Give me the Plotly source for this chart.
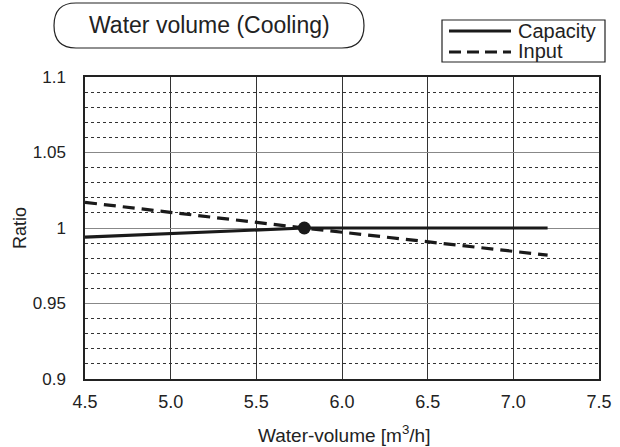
import plotly.graph_objects as go

# Data
cap_x = [4.5, 5.78, 7.2]
cap_y = [0.994, 1.0, 1.0]
inp_x = [4.5, 5.78, 7.2]
inp_y = [1.017, 1.0, 0.982]
dot_x = [5.78]
dot_y = [1.0]
x_ticks = [4.5, 5.0, 5.5, 6.0, 6.5, 7.0, 7.5]
x_ticktext = ["4.5", "5.0", "5.5", "6.0", "6.5", "7.0", "7.5"]
y_ticks = [0.9, 0.95, 1.0, 1.05, 1.1]
y_ticktext = ["0.9", "0.95", "1", "1.05", "1.1"]

FONT = "Liberation Sans, Arial, sans-serif"

fig = go.Figure()
fig.add_trace(go.Scatter(x=cap_x, y=cap_y, mode="lines", name="Capacity",
                         line=dict(color="#1a1a1a", width=3.2), showlegend=False))
fig.add_trace(go.Scatter(x=inp_x, y=inp_y, mode="lines", name="Input",
                         line=dict(color="#1a1a1a", width=3.2, dash="12px,7px"), showlegend=False))
fig.add_trace(go.Scatter(x=dot_x, y=dot_y, mode="markers",
                         marker=dict(color="#1a1a1a", size=13), showlegend=False))

W, H = 620, 447
L, R, T, B = 85, 21, 77, 68
pw, ph = W - L - R, H - T - B

def px(x):
    return (x - L) / pw

def py(y):
    return (H - B - y) / ph

# Rounded title box (paper coords)
x0, x1, y0, y1 = 54, 364, 3, 48
r = 22
path = (f"M {px(x0 + r)},{py(y0)} L {px(x1 - r)},{py(y0)} "
        f"Q {px(x1)},{py(y0)} {px(x1)},{py((y0 + y1) / 2)} "
        f"Q {px(x1)},{py(y1)} {px(x1 - r)},{py(y1)} "
        f"L {px(x0 + r)},{py(y1)} "
        f"Q {px(x0)},{py(y1)} {px(x0)},{py((y0 + y1) / 2)} "
        f"Q {px(x0)},{py(y0)} {px(x0 + r)},{py(y0)} Z")
shapes = [dict(type="path", xref="paper", yref="paper", path=path,
               line=dict(color="#222", width=1.2))]
# Legend box
shapes.append(dict(type="rect", xref="paper", yref="paper",
                   x0=px(442), x1=px(605), y0=py(20), y1=py(62),
                   line=dict(color="#222", width=1.2), fillcolor="white"))
shapes.append(dict(type="line", xref="paper", yref="paper",
                   x0=px(449), x1=px(511), y0=py(31), y1=py(31),
                   line=dict(color="#1a1a1a", width=3.2)))
shapes.append(dict(type="line", xref="paper", yref="paper",
                   x0=px(449), x1=px(511), y0=py(52), y1=py(52),
                   line=dict(color="#1a1a1a", width=3.2, dash="12px,6px")))

annotations = [
    dict(text="Water volume (Cooling)", xref="paper", yref="paper",
         x=px(209), y=py(25), showarrow=False, xanchor="center", yanchor="middle",
         font=dict(family=FONT, size=23, color="#222")),
    dict(text="Capacity", xref="paper", yref="paper", x=px(516), y=py(31),
         showarrow=False, xanchor="left", yanchor="middle",
         font=dict(family=FONT, size=20, color="#222")),
    dict(text="Input", xref="paper", yref="paper", x=px(516), y=py(51),
         showarrow=False, xanchor="left", yanchor="middle",
         font=dict(family=FONT, size=20, color="#222")),
    dict(text="Water-volume [m<sup>3</sup>/h]", xref="paper", yref="paper",
         x=px(344), y=py(434), showarrow=False, xanchor="center", yanchor="middle",
         font=dict(family=FONT, size=19, color="#222")),
    dict(text="Ratio", xref="paper", yref="paper", textangle=-90,
         x=px(20), y=py(228), showarrow=False, xanchor="center", yanchor="middle",
         font=dict(family=FONT, size=18, color="#222")),
]

fig.update_layout(
    width=W, height=H, margin=dict(l=L, r=R, t=T, b=B),
    paper_bgcolor="white", plot_bgcolor="white",
    font=dict(family=FONT, size=17, color="#222"),
    shapes=shapes, annotations=annotations,
)
fig.update_xaxes(range=[4.5, 7.5], tickvals=x_ticks, ticktext=x_ticktext,
                 showgrid=True, gridcolor="#333", gridwidth=1,
                 showline=True, linecolor="#222", linewidth=1.5, mirror=True,
                 ticks="", zeroline=False, automargin=False, ticklabelstandoff=6,
                 tickfont=dict(family=FONT, size=18))
fig.update_yaxes(range=[0.9, 1.1], tickvals=y_ticks, ticktext=y_ticktext,
                 showgrid=True, gridcolor="#888", gridwidth=1,
                 minor=dict(dtick=0.01, tick0=0.9, showgrid=True, gridcolor="#333",
                            griddash="dot", gridwidth=1),
                 showline=True, linecolor="#222", linewidth=1.5, mirror=True,
                 ticks="", zeroline=False, ticklabelstandoff=14, automargin=False,
                 tickfont=dict(family=FONT, size=17))

fig.write_html("out.html", config={"displayModeBar": False},
               post_script="document.body.style.margin='0';")
